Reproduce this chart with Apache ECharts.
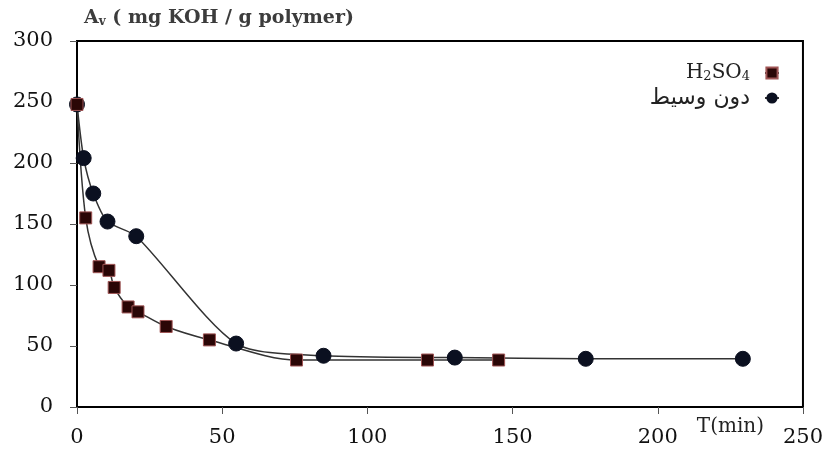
<!DOCTYPE html>
<html>
<head>
<meta charset="utf-8">
<script src="https://cdn.jsdelivr.net/npm/echarts@6/dist/echarts.min.js"></script>
<style>html,body{margin:0;padding:0;background:#fff}#c{width:826px;height:453px}</style>
</head>
<body>
<div id="c"></div>
<script>
var seriesNames = ['H2SO4', 'دون وسيط'];
var acidT = [0, 3, 7.6, 11, 12.8, 17.6, 21, 30.7, 45.6, 75.6, 120.7, 145.2];
var acidAv = [248, 155, 115, 112, 98, 82, 78, 66, 55, 38.5, 38.5, 38.5];
var noCatT = [0, 2.3, 5.6, 10.5, 20.4, 54.8, 84.9, 130.1, 175.2, 229.3];
var noCatAv = [248, 204, 175, 152, 140, 52, 42, 40.5, 39.5, 39.5];
var xTicks = [0, 50, 100, 150, 200, 250];
var yTicks = [0, 50, 100, 150, 200, 250, 300];

function pairs(xs, ys) { return xs.map(function (x, i) { return [x, ys[i]]; }); }

var font = 'DejaVu Serif';
var chart = echarts.init(document.getElementById('c'));
chart.setOption({
  animation: false,
  backgroundColor: '#fff',
  grid: { left: 77, right: 20, top: 41, bottom: 46, show: true, borderColor: '#000', borderWidth: 2 },
  title: {
    text: '{n|A}{s|v}{n| ( mg KOH / g polymer)}',
    left: 79, top: 4,
    textStyle: {
      fontWeight: 'bold',
      rich: {
        n: { fontFamily: font, fontSize: 19, fontWeight: 'bold', color: '#3c3c3c' },
        s: { fontFamily: font, fontSize: 12, fontWeight: 'bold', color: '#3c3c3c', padding: [7, 0, 0, 0] }
      }
    }
  },
  legend: {
    data: seriesNames,
    orient: 'vertical',
    right: 41, top: 58,
    align: 'right',
    itemGap: 4,
    itemWidth: 14, itemHeight: 14,
    formatter: function (n) { return n === 'H2SO4' ? '{n|H}{s|2}{n|SO}{s|4}' : '{a|' + n + '}'; },
    textStyle: {
      padding: [0, 10, 0, 0],
      rich: {
        n: { fontFamily: font, fontSize: 20, color: '#222' },
        s: { fontFamily: font, fontSize: 13, color: '#222', padding: [7, 0, 0, 0] },
        a: { fontFamily: 'DejaVu Sans', fontSize: 22, color: '#222' }
      }
    }
  },
  xAxis: {
    type: 'value', min: 0, max: 250, interval: 50,
    axisLine: { lineStyle: { color: '#000', width: 2 } },
    axisTick: { show: true, inside: false, length: 7, lineStyle: { color: '#555', width: 1 } },
    splitLine: { show: false },
    axisLabel: { fontFamily: font, fontSize: 21, color: '#111', margin: 20,
      formatter: function (v) { return xTicks.indexOf(v) >= 0 ? String(v) : ''; } }
  },
  yAxis: {
    type: 'value', min: 0, max: 300, interval: 50,
    axisLine: { show: true, lineStyle: { color: '#000', width: 2 } },
    axisTick: { show: true, inside: false, length: 7, lineStyle: { color: '#555', width: 1 } },
    splitLine: { show: false },
    axisLabel: { fontFamily: font, fontSize: 21, color: '#111', margin: 24,
      formatter: function (v) { return yTicks.indexOf(v) >= 0 ? String(v) : ''; } }
  },
  graphic: [{
    type: 'text', right: 62, top: 417,
    style: { text: 'T(min)', fontFamily: font, fontSize: 20, fill: '#222' }
  }],
  series: [
    {
      name: seriesNames[1], type: 'line', smooth: 0.25,
      data: pairs(noCatT, noCatAv),
      symbol: 'circle', symbolSize: 15,
      itemStyle: { color: '#0b1020', borderColor: '#0b1020' },
      lineStyle: { color: '#333', width: 1.5 }
    },
    {
      name: seriesNames[0], type: 'line', smooth: 0.3,
      data: pairs(acidT, acidAv),
      symbol: 'rect', symbolSize: 12,
      itemStyle: { color: '#2a0606', borderColor: '#a05555', borderWidth: 1 },
      lineStyle: { color: '#333', width: 1.5 }
    }
  ]
});
</script>
</body>
</html>
